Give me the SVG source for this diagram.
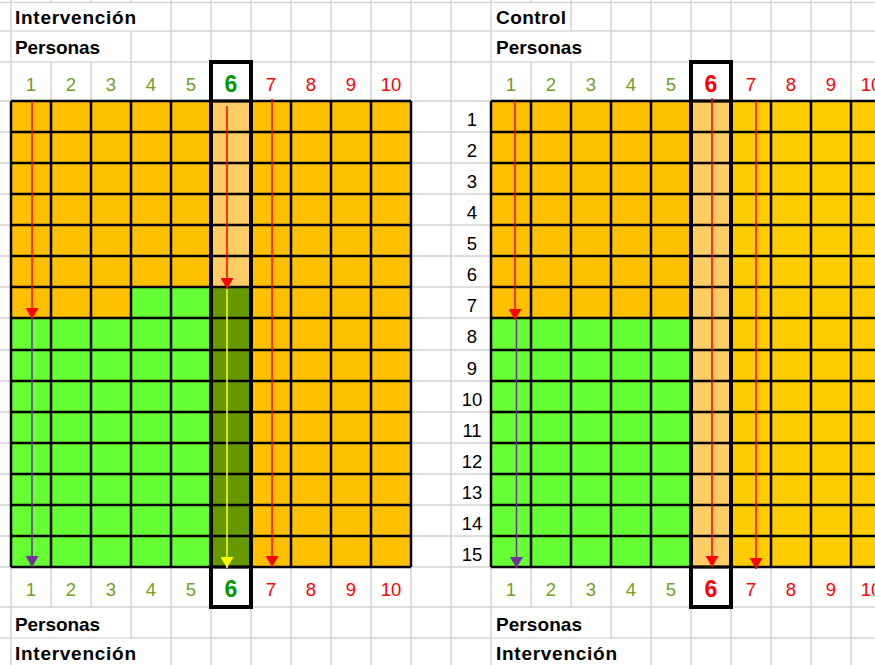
<svg xmlns="http://www.w3.org/2000/svg" width="875" height="665" viewBox="0 0 875 665">
<defs>
<style>
.gl{stroke:#d4d4d4;stroke-width:1.5;fill:none}
.bl{stroke:#000;stroke-width:2.5;fill:none}
.box{stroke:#000;stroke-width:4;fill:none}
.lab{font-family:"Liberation Sans",Arial,sans-serif;font-weight:bold;font-size:19px;fill:#000}
.n{font-family:"Liberation Sans",Arial,sans-serif;font-size:18.5px;text-anchor:middle}
.g{fill:#6f9f1f}
.r{fill:#ff0000}
.k{fill:#000}
.big{font-family:"Liberation Sans",Arial,sans-serif;font-size:23px;font-weight:bold;text-anchor:middle}
.a{stroke-width:1.5;fill:none}
</style>
<marker id="mr" viewBox="0 0 11 13" refX="11" refY="6.5" markerWidth="11" markerHeight="13" markerUnits="userSpaceOnUse" orient="auto"><path d="M0,0 L11,6.5 L0,13 z" fill="#ff0000"/></marker>
<marker id="mp" viewBox="0 0 11 13" refX="11" refY="6.5" markerWidth="11" markerHeight="13" markerUnits="userSpaceOnUse" orient="auto"><path d="M0,0 L11,6.5 L0,13 z" fill="#7030a0"/></marker>
<marker id="my" viewBox="0 0 11 13" refX="11" refY="6.5" markerWidth="11" markerHeight="13" markerUnits="userSpaceOnUse" orient="auto"><path d="M0,0 L11,6.5 L0,13 z" fill="#ffff00"/></marker>
</defs>
<rect width="875" height="665" fill="#fff"/>
<g id="sheet-grid">
<path class="gl" d="M11,0V665M51,0V665M91,0V665M131,0V665M171,0V665M211,0V665M251,0V665M291,0V665M331,0V665M371,0V665M411,0V665M451,0V665M491,0V665M531,0V665M571,0V665M611,0V665M651,0V665M691,0V665M731,0V665M771,0V665M811,0V665M851,0V665"/>
<path class="gl" d="M0,2.5H875M0,31H875M0,62H875M0,101H875M0,132H875M0,163H875M0,194H875M0,225H875M0,256H875M0,287H875M0,318H875M0,350H875M0,381H875M0,412H875M0,443H875M0,474H875M0,505H875M0,536H875M0,567H875M0,607H875M0,638H875"/>
<g fill="#fff">
<rect x="12" y="3.5" width="158" height="26.8"/>
<rect x="12" y="31.8" width="118" height="29.5"/>
<rect x="12" y="608" width="118" height="29.3"/>
<rect x="12" y="638.8" width="158" height="27"/>
<rect x="492" y="3.5" width="78" height="26.8"/>
<rect x="492" y="31.8" width="118" height="29.5"/>
<rect x="492" y="608" width="118" height="29.3"/>
<rect x="492" y="638.8" width="158" height="27"/>
</g>
</g>
<g id="left-table">
<rect x="11" y="101" width="400" height="466" fill="#ffc000"/>
<rect x="211" y="101" width="40" height="186" fill="#ffcc66"/>
<rect x="211" y="287" width="40" height="280" fill="#669900"/>
<rect x="11" y="318" width="200" height="249" fill="#66ff33"/>
<rect x="131" y="287" width="80" height="31" fill="#66ff33"/>
<path class="bl" d="M11,101V567M51,101V567M91,101V567M131,101V567M171,101V567M211,101V567M251,101V567M291,101V567M331,101V567M371,101V567M411,101V567M11,101H411M11,132H411M11,163H411M11,194H411M11,225H411M11,256H411M11,287H411M11,318H411M11,350H411M11,381H411M11,412H411M11,443H411M11,474H411M11,505H411M11,536H411M11,567H411"/>
<rect class="box" x="211" y="62" width="40" height="545"/>
<path stroke="#000" stroke-width="3" d="M211,101H251M211,567H251"/>
<text class="lab" x="15" y="24" textLength="121">Intervención</text>
<text class="lab" x="15" y="54" textLength="85">Personas</text>
<text class="lab" x="15" y="631" textLength="85">Personas</text>
<text class="lab" x="15" y="660" textLength="121">Intervención</text>
<g class="n">
<text class="g" x="31" y="91">1</text><text class="g" x="71" y="91">2</text><text class="g" x="111" y="91">3</text><text class="g" x="151" y="91">4</text><text class="g" x="191" y="91">5</text>
<text class="r" x="271" y="91">7</text><text class="r" x="311" y="91">8</text><text class="r" x="351" y="91">9</text><text class="r" x="391" y="91">10</text>
<text class="g" x="31" y="596">1</text><text class="g" x="71" y="596">2</text><text class="g" x="111" y="596">3</text><text class="g" x="151" y="596">4</text><text class="g" x="191" y="596">5</text>
<text class="r" x="271" y="596">7</text><text class="r" x="311" y="596">8</text><text class="r" x="351" y="596">9</text><text class="r" x="391" y="596">10</text>
</g>
<text class="big" x="231" y="92" fill="#009900">6</text>
<text class="big" x="231" y="597" fill="#009900">6</text>
</g>
<g id="right-table">
<rect x="491" y="101" width="400" height="466" fill="#ffc000"/>
<rect x="731" y="101" width="160" height="466" fill="#ffcc00"/>
<rect x="691" y="101" width="40" height="466" fill="#ffcc66"/>
<rect x="491" y="318" width="200" height="249" fill="#66ff33"/>
<path class="bl" d="M491,101V567M531,101V567M571,101V567M611,101V567M651,101V567M691,101V567M731,101V567M771,101V567M811,101V567M851,101V567M491,101H891M491,132H891M491,163H891M491,194H891M491,225H891M491,256H891M491,287H891M491,318H891M491,350H891M491,381H891M491,412H891M491,443H891M491,474H891M491,505H891M491,536H891M491,567H891"/>
<rect class="box" x="691" y="62" width="40" height="545"/>
<path stroke="#000" stroke-width="3" d="M691,101H731M691,567H731"/>
<text class="lab" x="496" y="24" textLength="70">Control</text>
<text class="lab" x="496" y="54" textLength="86">Personas</text>
<text class="lab" x="496" y="631" textLength="86">Personas</text>
<text class="lab" x="496" y="660" textLength="121">Intervención</text>
<g class="n">
<text class="g" x="511" y="91">1</text><text class="g" x="551" y="91">2</text><text class="g" x="591" y="91">3</text><text class="g" x="631" y="91">4</text><text class="g" x="671" y="91">5</text>
<text class="r" x="751" y="91">7</text><text class="r" x="791" y="91">8</text><text class="r" x="831" y="91">9</text><text class="r" x="871" y="91">10</text>
<text class="g" x="511" y="596">1</text><text class="g" x="551" y="596">2</text><text class="g" x="591" y="596">3</text><text class="g" x="631" y="596">4</text><text class="g" x="671" y="596">5</text>
<text class="r" x="751" y="596">7</text><text class="r" x="791" y="596">8</text><text class="r" x="831" y="596">9</text><text class="r" x="871" y="596">10</text>
</g>
<text class="big" x="711" y="92" fill="#ff0000">6</text>
<text class="big" x="711" y="597" fill="#ff0000">6</text>
<g class="n k">
<text x="472" y="126">1</text><text x="472" y="157">2</text><text x="472" y="188">3</text><text x="472" y="219">4</text><text x="472" y="250">5</text>
<text x="472" y="281">6</text><text x="472" y="312">7</text><text x="472" y="343">8</text><text x="472" y="375">9</text><text x="472" y="406">10</text>
<text x="472" y="437">11</text><text x="472" y="468">12</text><text x="472" y="499">13</text><text x="472" y="530">14</text><text x="472" y="561">15</text>
</g>
</g>
<g id="connectors">
<line class="a" x1="32" y1="101" x2="32" y2="319" stroke="#ff0000" marker-end="url(#mr)"/>
<line class="a" x1="32" y1="319" x2="32" y2="567" stroke="#7030a0" marker-end="url(#mp)"/>
<line class="a" x1="227" y1="106" x2="227" y2="289" stroke="#ff0000" marker-end="url(#mr)"/>
<line class="a" x1="227" y1="289" x2="227" y2="568" stroke="#ffff00" marker-end="url(#my)"/>
<line class="a" x1="272" y1="99" x2="272" y2="567" stroke="#ff0000" marker-end="url(#mr)"/>
<line class="a" x1="515" y1="101" x2="515" y2="320" stroke="#ff0000" marker-end="url(#mr)"/>
<line class="a" x1="516.5" y1="320" x2="516.5" y2="568" stroke="#7030a0" marker-end="url(#mp)"/>
<line class="a" x1="712" y1="98" x2="712" y2="567" stroke="#ff0000" marker-end="url(#mr)"/>
<line class="a" x1="756" y1="101" x2="756" y2="569" stroke="#ff0000" marker-end="url(#mr)"/>
</g>
</svg>
